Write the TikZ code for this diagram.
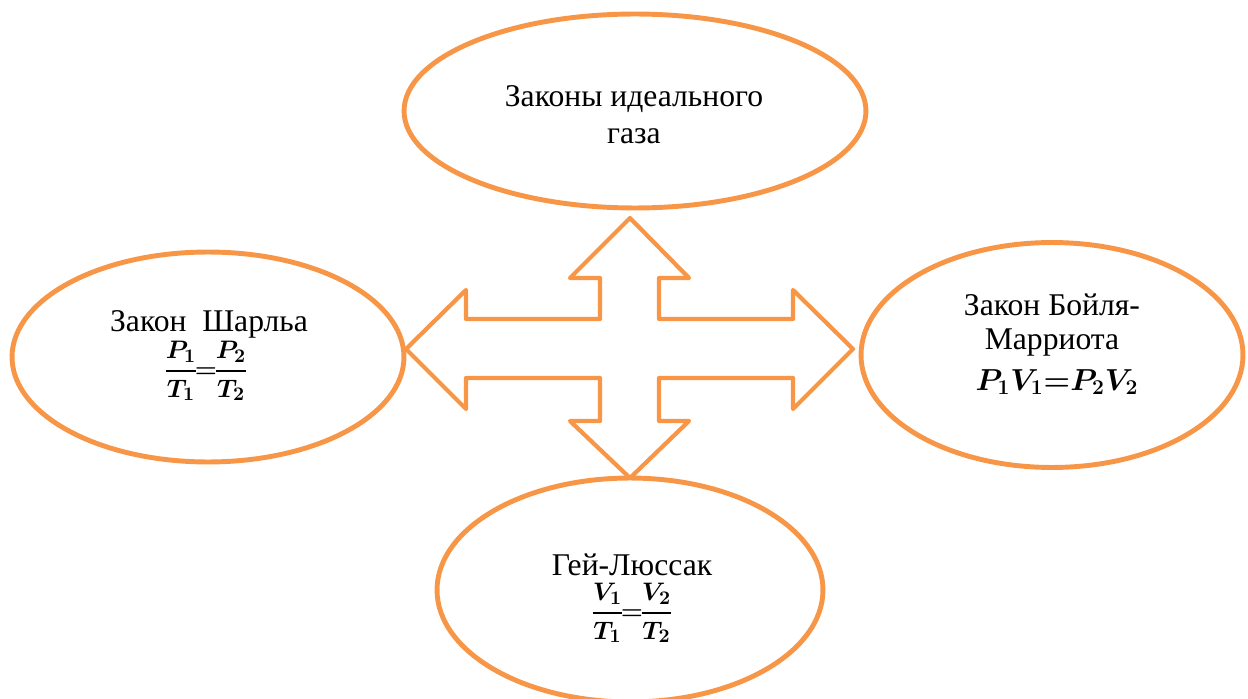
\documentclass[tikz,border=0pt]{standalone}
\usepackage{fontspec}
\setmainfont{Liberation Serif}
\usepackage{amsmath,amssymb}
\usetikzlibrary{shapes.geometric}
\definecolor{laworange}{HTML}{F79646}
\DeclareMathSizes{14}{14}{11}{8}
\DeclareMathSizes{17}{17}{13}{10}
\newcommand{\boldfrac}[2]{\genfrac{}{}{1.4pt}{0}{#1}{#2}}
\newcommand{\tighteq}{\mkern-2mu{=}\mkern-2mu}
\tikzset{
  lawoval/.style={ellipse, draw=laworange, line width=2.8pt, inner sep=0pt},
  lawtext/.style={align=center, inner sep=0pt, font=\fontsize{18}{21}\selectfont},
  lawfrac/.style={inner sep=0pt, font=\fontsize{14}{16}\selectfont},
  laweq/.style={inner sep=0pt, font=\fontsize{17}{19}\selectfont},
  crossarrow/.style={draw=laworange, line width=2.4pt, line join=round},
}

\begin{document}
\begin{tikzpicture}[x=0.02cm, y=-0.02cm]
  \useasboundingbox (0,0) rectangle (1248,699);
  \clip (0,0) rectangle (1248,699);

  % ── Four laws round the centre ──
  \node[lawoval, minimum width=9.24cm, minimum height=3.88cm] (ideal) at (635,111) {};
  \node[lawtext] (idealtext) at (634,115) {Законы идеального\\газа};

  \node[lawoval, minimum width=7.84cm, minimum height=4.2cm] (charles) at (208,357) {};
  \node[lawtext, anchor=base] (charlestext) at (209,332) {Закон\ \ Шарльа};
  \node[lawfrac] (charleseq) at (206,371)
    {$\boldsymbol{\boldfrac{P_1}{T_1}\tighteq\boldfrac{P_2}{T_2}}$};

  \node[lawoval, minimum width=7.64cm, minimum height=4.5cm] (boyle) at (1052,355) {};
  \node[lawtext] (boyletext) at (1052,325) {Закон Бойля-\\[-2pt]Марриота};
  \node[laweq, anchor=base] (boyleeq) at (1057,390) {$\boldsymbol{P_1V_1{=}P_2V_2}$};

  \node[lawoval, minimum width=7.72cm, minimum height=4.48cm] (gaylussac) at (630,590) {};
  \node[lawtext, anchor=base] (gaylussactext) at (632,575) {Гей-Люссак};
  \node[lawfrac] (gaylussaceq) at (632,613)
    {$\boldsymbol{\boldfrac{V_1}{T_1}\tighteq\boldfrac{V_2}{T_2}}$};

  % Cross-shaped four-way arrow
  \draw[crossarrow] (630,218) -- (689,278) -- (659,278) -- (659,319) -- (793,319)
    -- (793,290) -- (853,349) -- (793,409) -- (793,378) -- (659,378) -- (659,421)
    -- (689,421) -- (630,478) -- (570,421) -- (600,421) -- (600,378) -- (466,378)
    -- (466,409) -- (406,349) -- (466,290) -- (466,319) -- (600,319) -- (600,278)
    -- (570,278) -- cycle;

\end{tikzpicture}
\end{document}
